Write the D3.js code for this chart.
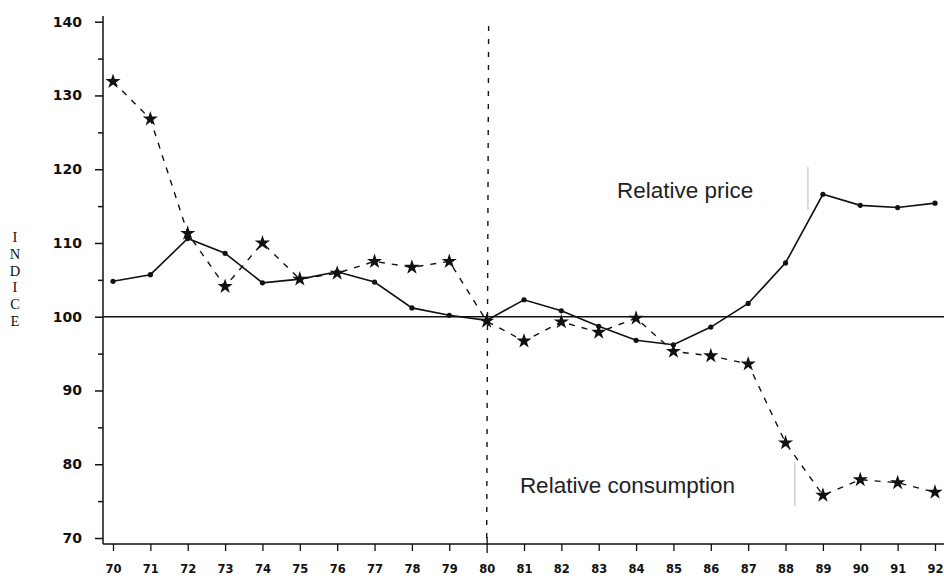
<!DOCTYPE html>
<html><head><meta charset="utf-8">
<script src="https://cdn.jsdelivr.net/npm/d3@7"></script>
<style>body{margin:0;background:#fff} svg{display:block}</style>
</head><body><svg id="c" width="944" height="585"></svg>
<script>
// ---- data ----
const years = [70,71,72,73,74,75,76,77,78,79,80,81,82,83,84,85,86,87,88,89,90,91,92];
const relativePrice = [104.8,105.7,110.6,108.6,104.6,105.1,106.1,104.7,101.2,100.2,99.5,102.3,100.8,98.7,96.8,96.2,98.6,101.8,107.3,116.6,115.1,114.8,115.4];
const relativeConsumption = [131.9,126.8,111.3,104.1,110.0,105.1,105.9,107.5,106.7,107.5,99.4,96.7,99.3,97.9,99.8,95.3,94.7,93.6,82.9,75.8,77.9,77.5,76.2];
const yTicks = [70,80,90,100,110,120,130,140];
const yMinorTicks = [75,85,95,105,115,125,135];
const xTickLabels = ["70","71","72","73","74","75","76","77","78","79","80","81","82","83","84","85","86","87","88","89","90","91","92"];
const baseValue = 100;
const splitYear = 80;
const axisTitle = "INDICE";
const labelPrice = {text:"Relative price", year:83.49, value:116.1};
const labelCons = {text:"Relative consumption", year:80.89, value:76.15};
const faintMarks = [{year:88.6, from:120.3, to:114.5},{year:88.25, from:80.3, to:74.3}];

// ---- layout ----
const svg = d3.select("#c");
const x = d3.scaleLinear().domain([70,92]).range([113,935]);
const y = d3.scaleLinear().domain([70,140]).range([538,21.7]);
const axisX = 103, axisBottom = 544;
const ink = "#111";

// y axis line
svg.append("line").attr("x1",axisX).attr("x2",axisX).attr("y1",16).attr("y2",axisBottom)
  .attr("stroke",ink).attr("stroke-width",1.5);
// x axis line
svg.append("line").attr("x1",axisX).attr("x2",944).attr("y1",axisBottom).attr("y2",axisBottom)
  .attr("stroke",ink).attr("stroke-width",1.5);

// y ticks
const yAxis = d3.axisLeft(y).tickValues(yTicks).tickSize(8).tickPadding(13).tickFormat(d3.format("d"));
const gy = svg.append("g").attr("transform",`translate(${axisX},0)`).call(yAxis);
gy.select(".domain").remove();
gy.selectAll(".tick line").attr("stroke",ink).attr("stroke-width",1.5);
gy.selectAll(".tick text").attr("font-family","DejaVu Sans").attr("font-weight","bold")
  .attr("font-size",14).attr("fill",ink);
const yAxisMinor = d3.axisLeft(y).tickValues(yMinorTicks).tickSize(5).tickFormat("");
const gym = svg.append("g").attr("transform",`translate(${axisX},0)`).call(yAxisMinor);
gym.select(".domain").remove();
gym.selectAll(".tick line").attr("stroke",ink).attr("stroke-width",1.5);

// x ticks
const xAxis = d3.axisBottom(x).tickValues(years).tickSize(7).tickPadding(14)
  .tickFormat((d,i)=>xTickLabels[i]);
const gx = svg.append("g").attr("transform",`translate(0,${axisBottom})`).call(xAxis);
gx.select(".domain").remove();
gx.selectAll(".tick line").attr("stroke",ink).attr("stroke-width",1.3);
gx.selectAll(".tick").filter(d=>d===splitYear).select("line").attr("y1",-7).attr("y2",9);
gx.selectAll(".tick text").attr("font-family","DejaVu Sans").attr("font-weight","bold")
  .attr("font-size",11.5).attr("fill",ink);

// axis title, letters stacked (one text element per letter)
axisTitle.split("").forEach((ch,i)=>{
  svg.append("text").attr("font-family","Liberation Serif").attr("font-size",14.5)
    .attr("fill",ink).attr("text-anchor","middle")
    .attr("x",15).attr("y",242 + i*16.8).text(ch);
});

// base line at 100
svg.append("line").attr("x1",axisX).attr("x2",944).attr("y1",y(baseValue)).attr("y2",y(baseValue))
  .attr("stroke",ink).attr("stroke-width",1.6);

// vertical dashed line at 1980
svg.append("line").attr("x1",x(splitYear)+2).attr("x2",x(splitYear)).attr("y1",26).attr("y2",axisBottom)
  .attr("stroke",ink).attr("stroke-width",1.4).attr("stroke-dasharray","5,8");

// faint marks
faintMarks.forEach(m=>{
  svg.append("line").attr("x1",x(m.year)).attr("x2",x(m.year)).attr("y1",y(m.from)).attr("y2",y(m.to))
    .attr("stroke","#bbb").attr("stroke-width",1);
});

const line = d3.line().x((d,i)=>x(years[i])).y(d=>y(d));

// consumption dashed line
svg.append("path").datum(relativeConsumption).attr("d",line).attr("fill","none")
  .attr("stroke",ink).attr("stroke-width",1.4).attr("stroke-dasharray","6,7");
// price solid line
svg.append("path").datum(relativePrice).attr("d",line).attr("fill","none")
  .attr("stroke",ink).attr("stroke-width",1.6);

// price dots
svg.selectAll("circle.p").data(relativePrice).enter().append("circle")
  .attr("cx",(d,i)=>x(years[i])).attr("cy",d=>y(d)).attr("r",2.6).attr("fill",ink);
// consumption stars
const star = d3.symbol().type(d3.symbolStar).size(72);
svg.selectAll("path.s").data(relativeConsumption).enter().append("path")
  .attr("d",star).attr("transform",(d,i)=>`translate(${x(years[i])},${y(d)})`).attr("fill",ink);

// labels
[labelPrice,labelCons].forEach(l=>{
  svg.append("text").attr("x",x(l.year)).attr("y",y(l.value)).attr("font-family","Liberation Sans")
    .attr("font-size",22.5).attr("fill","#222").text(l.text);
});
</script></body></html>
